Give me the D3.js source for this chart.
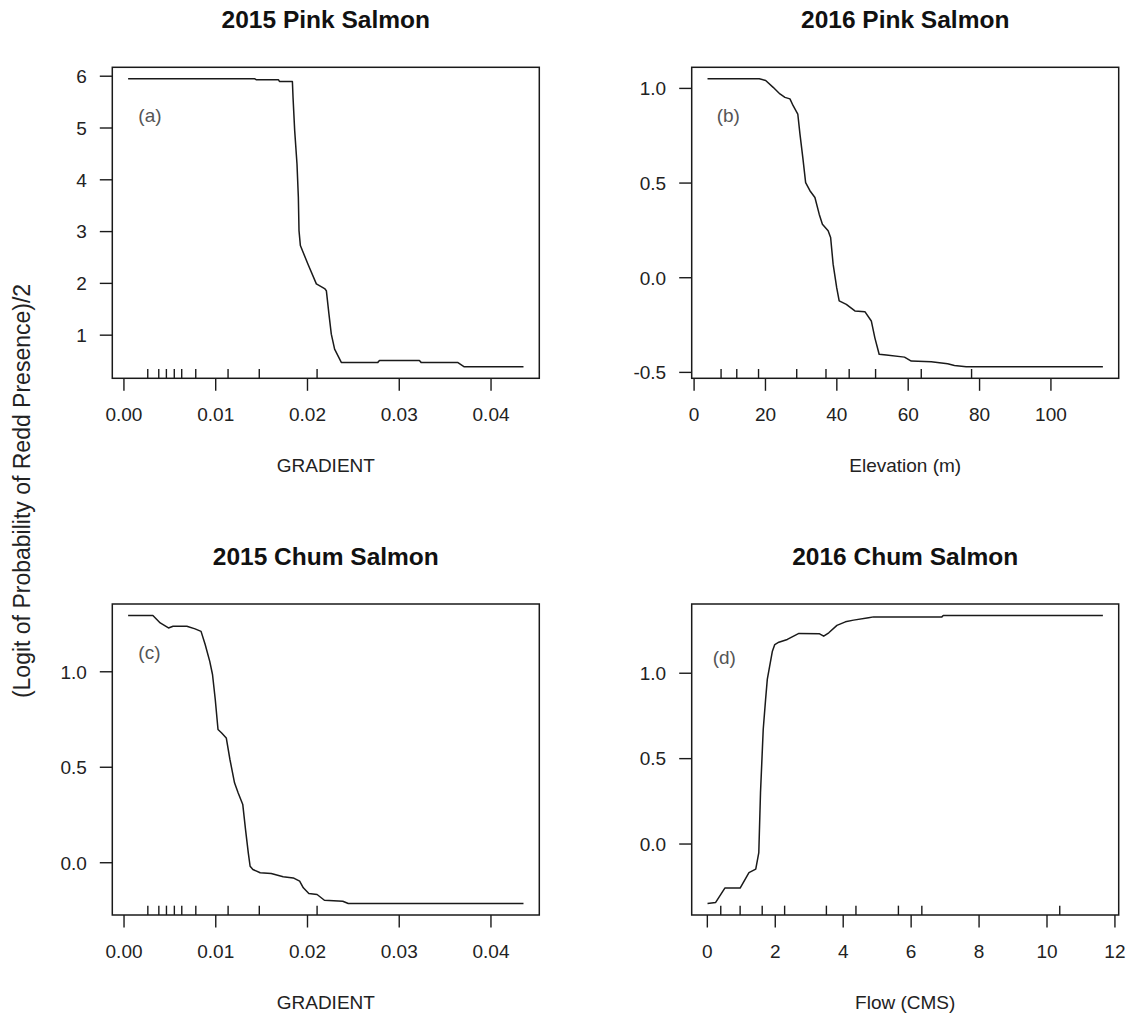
<!DOCTYPE html>
<html>
<head>
<meta charset="utf-8">
<script src="https://cdn.jsdelivr.net/npm/d3@7"></script>
<style>
  body { margin: 0; background: #fff; }
  svg { display: block; background: #fff; }
  text { font-family: "Liberation Sans", Arial, Helvetica, sans-serif; }
</style>
</head>
<body>
<svg id="chart" width="1137" height="1018"></svg>
<script>
// ---- Partial dependence curves (fitted function / 2, logit scale) ----

// (a) 2015 Pink Salmon vs channel gradient
const gradientPink2015 = [0.00051, 0.01432, 0.01450, 0.01690, 0.01700, 0.01841, 0.01848, 0.01866, 0.01891,
  0.01906, 0.01913, 0.01928, 0.02011, 0.02102, 0.02192, 0.02211, 0.02239, 0.02265, 0.02301, 0.02374,
  0.02772, 0.02790, 0.03225, 0.03243, 0.03641, 0.03714, 0.04359];
const fitPink2015 = [5.94, 5.94, 5.92, 5.92, 5.89, 5.89, 5.58, 4.94, 4.30,
  3.65, 3.01, 2.72, 2.36, 1.98, 1.89, 1.85, 1.40, 1.01, 0.72, 0.465,
  0.465, 0.50, 0.50, 0.465, 0.465, 0.38, 0.38];

// (b) 2016 Pink Salmon vs elevation (m)
const elevationPink2016 = [3.9, 18.4, 20.2, 22.3, 24.2, 25.6, 27.0, 27.9, 29.2, 29.8, 30.6, 31.4,
  32.6, 34.0, 35.2, 36.1, 37.7, 38.4, 39.1, 40.1, 40.8, 42.8, 45.2, 48.0, 49.8, 50.8, 52.0, 54.0,
  59.1, 61.0, 66.6, 71.2, 73.1, 76.4, 114.7];
const fitPink2016 = [1.048, 1.048, 1.039, 1.003, 0.968, 0.950, 0.942, 0.906, 0.862, 0.757, 0.633, 0.500,
  0.457, 0.421, 0.333, 0.280, 0.245, 0.210, 0.069, -0.055, -0.125, -0.143, -0.178, -0.182, -0.231, -0.320, -0.407, -0.411,
  -0.422, -0.443, -0.447, -0.457, -0.466, -0.473, -0.473];

// (c) 2015 Chum Salmon vs channel gradient
const gradientChum2015 = [0.0005, 0.0032, 0.0040, 0.0049, 0.0054, 0.0069, 0.0078, 0.00845, 0.0089, 0.0094,
  0.0097, 0.0100, 0.0103, 0.0107, 0.0112, 0.0116, 0.0121, 0.0125, 0.0130, 0.0133, 0.0136, 0.0138,
  0.0141, 0.0149, 0.0161, 0.0174, 0.0185, 0.0192, 0.0196, 0.0202, 0.0211, 0.0219, 0.0239, 0.0245, 0.0436];
const fitChum2015 = [1.292, 1.292, 1.253, 1.227, 1.236, 1.236, 1.222, 1.209, 1.140, 1.052,
  0.983, 0.852, 0.695, 0.677, 0.651, 0.538, 0.416, 0.363, 0.302, 0.171, 0.049, -0.021,
  -0.038, -0.055, -0.059, -0.076, -0.082, -0.099, -0.134, -0.164, -0.169, -0.199, -0.204, -0.216, -0.216];

// (d) 2016 Chum Salmon vs flow (CMS)
const flowChum2016 = [0.02, 0.26, 0.53, 0.98, 1.24, 1.44, 1.53, 1.58, 1.66, 1.73, 1.78, 1.85, 1.93, 2.00,
  2.12, 2.37, 2.71, 3.32, 3.44, 3.59, 3.83, 4.08, 4.32, 4.76, 4.91, 6.92, 6.96, 11.66];
const fitChum2016 = [-0.351, -0.345, -0.261, -0.261, -0.170, -0.150, -0.053, 0.298, 0.668, 0.844, 0.961, 1.039, 1.126, 1.165,
  1.179, 1.195, 1.230, 1.228, 1.214, 1.234, 1.277, 1.298, 1.308, 1.322, 1.327, 1.327, 1.335, 1.335];

// ---- Rug marks (deciles of each predictor) ----
const rugGradient2015 = [0.00265, 0.00385, 0.00468, 0.00554, 0.00635, 0.00788, 0.0114, 0.0148, 0.0211];
const rugElevation2016 = [7.7, 12.1, 18.2, 28.9, 37.1, 43.6, 51.0, 63.8, 77.9];
const rugFlow2016 = [0.41, 0.98, 1.63, 2.29, 3.52, 4.39, 5.64, 6.33, 10.39];

// ---- Tick values ----
const xTicksGradient = [0.00, 0.01, 0.02, 0.03, 0.04];
const xTicksElevation = [0, 20, 40, 60, 80, 100];
const xTicksFlow = [0, 2, 4, 6, 8, 10, 12];
const yTicksPink2015 = [1, 2, 3, 4, 5, 6];
const yTicksPink2016 = [-0.5, 0.0, 0.5, 1.0];
const yTicksChum = [0.0, 0.5, 1.0];

// ---- Text ----
const panelTitles = ["2015 Pink Salmon", "2016 Pink Salmon", "2015 Chum Salmon", "2016 Chum Salmon"];
const panelTags = ["(a)", "(b)", "(c)", "(d)"];
const xAxisTitles = ["GRADIENT", "Elevation (m)", "GRADIENT", "Flow (CMS)"];
const yAxisTitle = "(Logit of Probability of Redd Presence)/2";

// Number formats with a plain hyphen for negatives
const fmt = spec => { const f = d3.format(spec); return v => f(v).replace("\u2212", "-"); };

const panels = [
  { x: gradientPink2015, y: fitPink2015, rug: rugGradient2015, xTicks: xTicksGradient, yTicks: yTicksPink2015, xFmt: fmt(".2f"), yFmt: fmt("d") },
  { x: elevationPink2016, y: fitPink2016, rug: rugElevation2016, xTicks: xTicksElevation, yTicks: yTicksPink2016, xFmt: fmt("d"), yFmt: fmt(".1f") },
  { x: gradientChum2015, y: fitChum2015, rug: rugGradient2015, xTicks: xTicksGradient, yTicks: yTicksChum, xFmt: fmt(".2f"), yFmt: fmt(".1f") },
  { x: flowChum2016, y: fitChum2016, rug: rugFlow2016, xTicks: xTicksFlow, yTicks: yTicksChum, xFmt: fmt("d"), yFmt: fmt(".1f") }
];

// Plot-region frames, 2 x 2 grid
const frameW = 427, frameH = 311;
const frames = [
  { left: 112.3, top: 67.3, tagDx: 26, tagDy: 55 },
  { left: 691.7, top: 67.3, tagDx: 25, tagDy: 55 },
  { left: 112.3, top: 604, tagDx: 26, tagDy: 55 },
  { left: 691.7, top: 604, tagDx: 21, tagDy: 60 }
];

const ink = "#1a1a1a";
const tickLen = 12.5;
const svg = d3.select("#chart");

// 4% range extension on both ends of the data extent
function padded(values) {
  const [lo, hi] = d3.extent(values);
  const pad = (hi - lo) * 0.04;
  return [lo - pad, hi + pad];
}

panels.forEach((p, i) => {
  const f = frames[i];
  const g = svg.append("g").attr("transform", `translate(${f.left},${f.top})`);

  const x = d3.scaleLinear().domain(padded(p.x)).range([0, frameW]);
  const y = d3.scaleLinear().domain(padded(p.y)).range([frameH, 0]);

  // Bottom axis
  const xAxis = g.append("g")
    .attr("transform", `translate(0,${frameH})`)
    .call(d3.axisBottom(x).tickValues(p.xTicks).tickFormat(p.xFmt).tickSize(tickLen).tickPadding(17));
  // Left axis
  const yAxis = g.append("g")
    .call(d3.axisLeft(y).tickValues(p.yTicks).tickFormat(p.yFmt).tickSize(tickLen).tickPadding(13));

  [xAxis, yAxis].forEach(a => {
    a.select(".domain").remove();
    a.selectAll(".tick line").attr("stroke", ink).attr("stroke-width", 1.4);
    a.selectAll(".tick text").attr("fill", "#222").style("font-size", "19px");
  });
  yAxis.selectAll(".tick text").attr("dy", "0.36em");

  // Rug along the bottom edge
  g.append("g").selectAll("line").data(p.rug).join("line")
    .attr("x1", d => x(d)).attr("x2", d => x(d))
    .attr("y1", frameH).attr("y2", frameH - frameH * 0.03)
    .attr("stroke", ink).attr("stroke-width", 1.4);

  // Fitted curve
  const pts = p.x.map((v, k) => [v, p.y[k]]);
  g.append("path")
    .datum(pts)
    .attr("fill", "none")
    .attr("stroke", ink)
    .attr("stroke-width", 1.5)
    .attr("stroke-linejoin", "round")
    .attr("d", d3.line().x(d => x(d[0])).y(d => y(d[1])));

  // Plot frame
  g.append("rect")
    .attr("width", frameW).attr("height", frameH)
    .attr("fill", "none").attr("stroke", ink).attr("stroke-width", 1.5);

  // Panel tag
  g.append("text")
    .attr("x", f.tagDx).attr("y", f.tagDy)
    .attr("fill", "#555").style("font-size", "19px")
    .text(panelTags[i]);

  // Title
  g.append("text")
    .attr("x", frameW / 2).attr("y", -39.5)
    .attr("text-anchor", "middle")
    .attr("fill", "#111")
    .style("font-size", "24.5px").style("font-weight", "bold")
    .text(panelTitles[i]);

  // X axis title
  g.append("text")
    .attr("x", frameW / 2).attr("y", frameH + 93.5)
    .attr("text-anchor", "middle")
    .attr("fill", "#222").style("font-size", "19px")
    .text(xAxisTitles[i]);
});

// Shared y-axis title
svg.append("text")
  .attr("transform", "translate(30,491) rotate(-90)")
  .attr("text-anchor", "middle")
  .attr("fill", "#222").style("font-size", "23px")
  .text(yAxisTitle);
</script>
</body>
</html>
